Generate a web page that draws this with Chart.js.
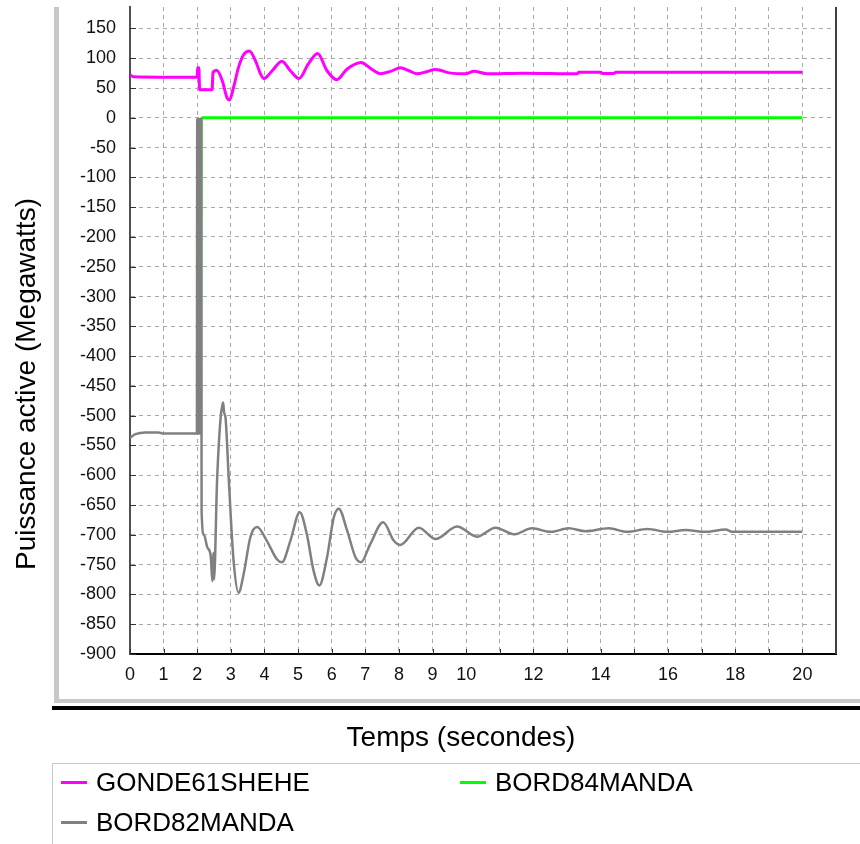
<!DOCTYPE html>
<html>
<head>
<meta charset="utf-8">
<script src="https://cdn.jsdelivr.net/npm/chart.js@4"></script>
<style>
  html, body { margin: 0; padding: 0; background: #fff; }
  canvas { display: block; }
</style>
</head>
<body>
<canvas id="chart" width="860" height="844"></canvas>
<script>
// Time (s) / active power (MW) samples
const gondeT = [0, 0.1, 2.0, 2.01, 2.05, 2.07, 2.44, 2.47, 2.58, 2.74, 2.89, 2.96, 3.08, 3.23, 3.37, 3.55, 3.73, 3.88, 3.98, 4.23, 4.52, 4.77, 5.03, 5.31, 5.58, 5.86, 6.15, 6.46, 6.87, 7.2, 7.45, 7.75, 8.05, 8.3, 8.54, 8.8, 9.09, 9.54, 9.98, 10.23, 10.62, 11.7, 13.3, 13.35, 14.0, 14.05, 14.4, 14.45, 20];
const gondeP = [72, 69, 68, 84, 84, 47, 47, 76, 80, 63, 33, 30, 51, 85, 105, 112, 96, 74, 66, 79, 95, 79, 66, 91, 108, 79, 64, 82, 93, 81, 74, 78, 84, 79, 74, 77, 81, 75, 74, 78, 74, 75, 74, 76.5, 76.5, 74.5, 74.5, 76.5, 76.5];

const bord84T = [2.1, 2.12, 2.16, 20];
const bord84P = [-530, -3, 0, 0];

const bord82T = [0, 0.16, 0.46, 0.85, 0.97, 1.99, 2.0, 2.015, 2.03, 2.045, 2.06, 2.075, 2.09, 2.105, 2.12, 2.13, 2.2, 2.3, 2.4, 2.45, 2.48, 2.5, 2.59, 2.7, 2.74, 2.77, 2.8, 2.84, 2.94, 3.08, 3.23, 3.38, 3.58, 3.78, 4.07, 4.37, 4.52, 4.77, 5.05, 5.26, 5.46, 5.63, 5.86, 6.06, 6.21, 6.46, 6.71, 6.87, 7.15, 7.53, 7.85, 8.04, 8.59, 9.09, 9.73, 10.32, 10.87, 11.42, 11.96, 12.51, 13.05, 13.55, 14.24, 14.79, 15.39, 15.98, 16.53, 17.1, 17.72, 17.9, 20];
const bord82P = [-537, -531, -528, -528, -530, -530, -2, -530, -2, -530, -2, -530, -2, -530, -2, -660, -700, -721, -735, -778, -730, -775, -609, -500, -485, -478, -495, -503, -609, -743, -797, -766, -704, -687, -710, -741, -746, -710, -662, -699, -760, -785, -738, -671, -656, -693, -738, -746, -715, -679, -710, -717, -688, -707, -686, -703, -688, -699, -689, -695, -689, -694, -689, -695, -690, -695, -692, -695, -691, -695, -695];

const yTicks = [-900, -850, -800, -750, -700, -650, -600, -550, -500, -450, -400, -350, -300, -250, -200, -150, -100, -50, 0, 50, 100, 150];
const xTicks = [0, 1, 2, 3, 4, 5, 6, 7, 8, 9, 10, 11, 12, 13, 14, 15, 16, 17, 18, 19, 20];
const xLabels = ["0", "1", "2", "3", "4", "5", "6", "7", "8", "9", "10", "", "12", "", "14", "", "16", "", "18", "", "20"];

const seriesNames = ["GONDE61SHEHE", "BORD84MANDA", "BORD82MANDA"];
const seriesColors = ["#ff00ff", "#00ff00", "#808080"];

const xTitle = "Temps (secondes)";
const yTitle = "Puissance active (Megawatts)";

const toPoints = (ts, ps) => ts.map((t, i) => ({ x: t, y: ps[i] }));

// frame, titles and legend around the plot
const decorations = {
  id: "decorations",
  beforeDraw(chart) {
    const ctx = chart.ctx;
    ctx.save();
    ctx.fillStyle = "#fff";
    ctx.fillRect(0, 0, chart.width, chart.height);
    ctx.fillStyle = "#c8c8c8";
    ctx.fillRect(54, 7, 5, 696);
    ctx.fillRect(54, 699, 806, 4);
    ctx.fillStyle = "#000";
    ctx.fillRect(52, 706, 808, 4);
    ctx.restore();
  },
  afterDraw(chart) {
    const ctx = chart.ctx;
    const area = chart.chartArea;
    const xs = chart.scales.x, ys = chart.scales.y;
    ctx.save();
    // inner tick marks
    ctx.strokeStyle = "#303030";
    ctx.lineWidth = 1;
    ys.ticks.forEach((t) => {
      const y = Math.round(ys.getPixelForValue(t.value)) + 0.5;
      ctx.beginPath(); ctx.moveTo(area.left, y); ctx.lineTo(area.left + 6, y); ctx.stroke();
    });
    xs.ticks.forEach((t) => {
      const x = Math.round(xs.getPixelForValue(t.value)) + 0.5;
      ctx.beginPath(); ctx.moveTo(x, area.bottom); ctx.lineTo(x, area.bottom - 5); ctx.stroke();
    });
    // right border
    ctx.fillStyle = "#404040";
    ctx.fillRect(area.right - 1, area.top, 2, area.bottom - area.top);

    // axis titles
    ctx.fillStyle = "#000";
    ctx.font = "28px 'Liberation Sans', Arial, sans-serif";
    ctx.textAlign = "center";
    ctx.textBaseline = "alphabetic";
    ctx.fillText(xTitle, 461, 746);
    ctx.save();
    ctx.translate(35, 384);
    ctx.rotate(-Math.PI / 2);
    ctx.fillText(yTitle, 0, 0);
    ctx.restore();

    // legend box
    ctx.fillStyle = "#c8c8c8";
    ctx.fillRect(52, 763, 808, 1);
    ctx.fillRect(52, 763, 1, 81);
    const legendPos = [[61, 782], [460, 782], [61, 822]];
    ctx.font = "26px 'Liberation Sans', Arial, sans-serif";
    ctx.textAlign = "left";
    seriesNames.forEach((name, i) => {
      const [lx, ly] = legendPos[i];
      ctx.fillStyle = seriesColors[i];
      ctx.fillRect(lx, ly - 1, 26, 3);
      ctx.fillStyle = "#000";
      ctx.fillText(name, lx + 35, ly + 9);
    });
    ctx.restore();
  },
};

new Chart(document.getElementById("chart"), {
  type: "line",
  data: {
    datasets: [
      { label: seriesNames[0], data: toPoints(gondeT, gondeP), borderColor: seriesColors[0], borderWidth: 3, order: 1 },
      { label: seriesNames[1], data: toPoints(bord84T, bord84P), borderColor: seriesColors[1], borderWidth: 3, order: 2 },
      { label: seriesNames[2], data: toPoints(bord82T, bord82P), borderColor: seriesColors[2], borderWidth: 2.5, order: 0 },
    ],
  },
  options: {
    responsive: false,
    animation: false,
    layout: { padding: { top: 7, right: 24, left: 0, bottom: 0 } },
    elements: {
      point: { radius: 0 },
      line: { cubicInterpolationMode: "monotone", fill: false },
    },
    plugins: { legend: { display: false }, tooltip: { enabled: false } },
    scales: {
      x: {
        type: "linear",
        min: 0,
        max: 21,
        afterBuildTicks: (s) => { s.ticks = xTicks.map((v) => ({ value: v })); },
        afterFit: (s) => { s.height = 190; s.paddingLeft = 0; s.paddingRight = 0; },
        ticks: {
          autoSkip: false,
          maxRotation: 0,
          padding: 10,
          color: "#111",
          font: { family: "'Liberation Sans', Arial, sans-serif", size: 18 },
          callback: (v, i) => xLabels[i],
        },
        grid: { color: "#a8a8a8", drawTicks: false },
        border: { display: true, color: "#000", width: 2, dash: [4, 4] },
      },
      y: {
        type: "linear",
        min: -900,
        max: 186,
        afterBuildTicks: (s) => { s.ticks = yTicks.map((v) => ({ value: v })); },
        afterFit: (s) => { s.width = 130; s.paddingTop = 0; s.paddingBottom = 0; },
        ticks: {
          padding: 14,
          color: "#111",
          font: { family: "'Liberation Sans', Arial, sans-serif", size: 18 },
        },
        grid: { color: "#a8a8a8", drawTicks: false },
        border: { display: true, color: "#505050", width: 2, dash: [4, 4] },
      },
    },
  },
  plugins: [decorations],
});
</script>
</body>
</html>
